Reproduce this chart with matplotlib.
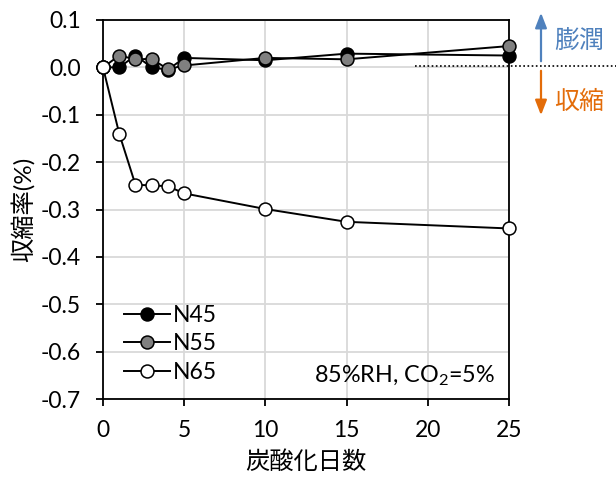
import matplotlib
matplotlib.use("Agg")
import matplotlib.pyplot as plt

plt.rcParams['font.family'] = ['Lato', 'Noto Sans CJK JP', 'DejaVu Sans']
plt.rcParams['mathtext.fontset'] = 'custom'
plt.rcParams['mathtext.rm'] = 'Lato'

days = [0, 1, 2, 3, 4, 5, 10, 15, 25]
n45 = [0.0, 0.0, 0.025, 0.0, -0.005, 0.020, 0.015, 0.029, 0.025]
n55 = [0.0, 0.025, 0.017, 0.018, -0.004, 0.004, 0.020, 0.017, 0.045]
n65 = [0.0, -0.140, -0.248, -0.249, -0.251, -0.266, -0.299, -0.326, -0.340]

series = [("N45", n45, "black"), ("N55", n55, "#808080"), ("N65", n65, "white")]

xticks = [0, 5, 10, 15, 20, 25]
yticks = [0.1, 0.0, -0.1, -0.2, -0.3, -0.4, -0.5, -0.6, -0.7]

fig = plt.figure(figsize=(6.16, 4.83), dpi=100)
ax = fig.add_axes([103 / 616, 1 - 399 / 483, 406 / 616, 379 / 483])

for name, vals, face in series:
    ax.plot(days, vals, color="black", lw=1.4, marker="o", ms=9.3,
            mfc=face, mec="black", mew=1.1, label=name, clip_on=False, zorder=3)

ax.set_xlim(0, 25)
ax.set_ylim(-0.7, 0.1)
ax.set_xticks(xticks)
ax.set_yticks(yticks)
ax.set_yticklabels([f"{v:.1f}" for v in yticks])
ax.grid(True, color="#d9d9d9", lw=1.3)
ax.set_axisbelow(True)
for sp in ax.spines.values():
    sp.set_color("black")
    sp.set_linewidth(1.3)
ax.tick_params(direction="out", length=5, width=1.3, labelsize=16.5, colors="black")
ax.tick_params(axis="y", pad=11)
ax.tick_params(axis="x", pad=10)

ax.set_xlabel("炭酸化日数", fontsize=17.5, labelpad=7)
ax.set_ylabel("収縮率(%)", fontsize=17.5, labelpad=4)

leg = ax.legend(loc="lower left", bbox_to_anchor=(0.012, 0.0), frameon=False, fontsize=16.5,
                handlelength=2.0, labelspacing=0.33, handletextpad=0.15,
                borderaxespad=0.3)
ax.text(0.965, 0.045, "85%RH, CO$_\\mathregular{2}$=5%", transform=ax.transAxes, ha="right",
        va="baseline", fontsize=16.8)

# zero reference line extending past the plot, with direction arrows
fig.add_artist(plt.Line2D([415 / 616, 1.0], [1 - 66 / 483, 1 - 66 / 483], color="black",
                          lw=1.2, ls=(0, (1, 1.5))))
ax.annotate("", xy=(541 / 616, 1 - 10 / 483), xytext=(541 / 616, 1 - 64 / 483),
            xycoords="figure fraction", textcoords="figure fraction",
            arrowprops=dict(arrowstyle="-|>,head_length=0.9,head_width=0.35", color="#4f81bd", lw=1.6))
ax.annotate("", xy=(541 / 616, 1 - 118 / 483), xytext=(541 / 616, 1 - 68 / 483),
            xycoords="figure fraction", textcoords="figure fraction",
            arrowprops=dict(arrowstyle="-|>,head_length=0.9,head_width=0.35", color="#e36c09", lw=1.6))
fig.text(554 / 616, 1 - 40 / 483, "膨潤", color="#4f81bd", fontsize=18, va="center", ha="left")
fig.text(554 / 616, 1 - 101 / 483, "収縮", color="#e36c09", fontsize=18, va="center", ha="left")

fig.savefig("out.png", dpi=100)
